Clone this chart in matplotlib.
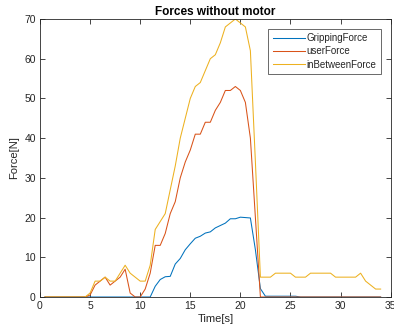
import matplotlib
matplotlib.use("Agg")
import matplotlib.pyplot as plt
import numpy as np

# Time axis (s), sampled every half second
time_s = np.arange(0.5, 34.01, 0.5)

gripping_force = [
    0, 0, 0, 0, 0, 0, 0, 0, 0,            # 0.5 - 4.5
    0, 0, 0, 0, 0, 0, 0, 0, 0, 0, 0, 0, 0,  # 5.0 - 11.0
    2.7, 4.4, 5.1, 5.2, 8.3, 9.7, 11.9, 13.4, 14.8, 15.3, 16.1, 16.4,
    17.4, 18.0, 18.6, 19.7, 19.7, 20.1, 20.0, 19.9, 11.9, 2.1,
    0.2, 0.2, 0.2, 0.2, 0.2, 0.2, 0.2,
    0, 0, 0, 0, 0, 0, 0, 0, 0, 0, 0, 0, 0, 0, 0, 0, 0,
]
user_force = [
    0, 0, 0, 0, 0, 0, 0, 0, 0,
    0.5, 3, 4, 5, 3, 4, 5, 7, 1, 0, 0, 2, 6,
    13, 13, 16, 21, 24, 30, 34, 37, 41, 41, 44, 44,
    47, 49, 52, 52, 53, 52, 49, 40, 20, 0,
    0, 0, 0, 0, 0, 0, 0,
    0, 0, 0, 0, 0, 0, 0, 0, 0, 0, 0, 0, 0, 0, 0, 0, 0,
]
in_between_force = [
    0, 0, 0, 0, 0, 0, 0, 0, 0,
    1, 4, 4, 5, 4, 4, 6, 8, 6, 5, 4, 4, 8,
    17, 19, 21, 27, 33, 40, 45, 50, 53, 54, 57, 60,
    61, 64, 68, 69, 70, 69, 68, 62, 34, 5,
    5, 5, 6, 6, 6, 6, 5,
    5, 5, 6, 6, 6, 6, 6, 5, 5, 5, 5, 5, 6, 4, 3, 2, 2,
]

labels = ["GrippingForce", "userForce", "inBetweenForce"]
colors = ["#0072BD", "#D95319", "#EDB120"]

plt.rcParams["font.family"] = ["Liberation Sans", "DejaVu Sans"]
text_color = "#262626"

fig = plt.figure(figsize=(3.94, 3.32), dpi=100)
ax = fig.add_axes([0.1015, 0.1054, 0.89, 0.8374])

for values, label, color in zip(
    [gripping_force, user_force, in_between_force], labels, colors
):
    ax.plot(time_s, values, color=color, lw=0.75, label=label)

ax.set_xlim(0, 35)
ax.set_ylim(0, 70)
ax.set_xticks(np.arange(0, 36, 5))
ax.set_yticks(np.arange(0, 71, 10))
ax.tick_params(direction="in", length=3.5, width=0.6, labelsize=7.5,
               colors=text_color, top=True, right=True, pad=3)
for spine in ax.spines.values():
    spine.set_linewidth(0.6)
    spine.set_color(text_color)

ax.set_title("Forces without motor", fontsize=8.5, fontweight="bold",
             color="black", pad=3)
ax.set_xlabel("Time[s]", fontsize=8, color=text_color, labelpad=2)
ax.set_ylabel("Force[N]", fontsize=8, color=text_color, labelpad=4)

leg = ax.legend(loc="upper right", fontsize=7, frameon=True, fancybox=False,
                edgecolor=text_color, handlelength=3.3, handletextpad=0.2,
                borderpad=0.45, labelspacing=0.35, borderaxespad=1.0)
leg.get_frame().set_linewidth(0.6)
for t in leg.get_texts():
    t.set_color(text_color)

fig.savefig("out.png", dpi=100)
